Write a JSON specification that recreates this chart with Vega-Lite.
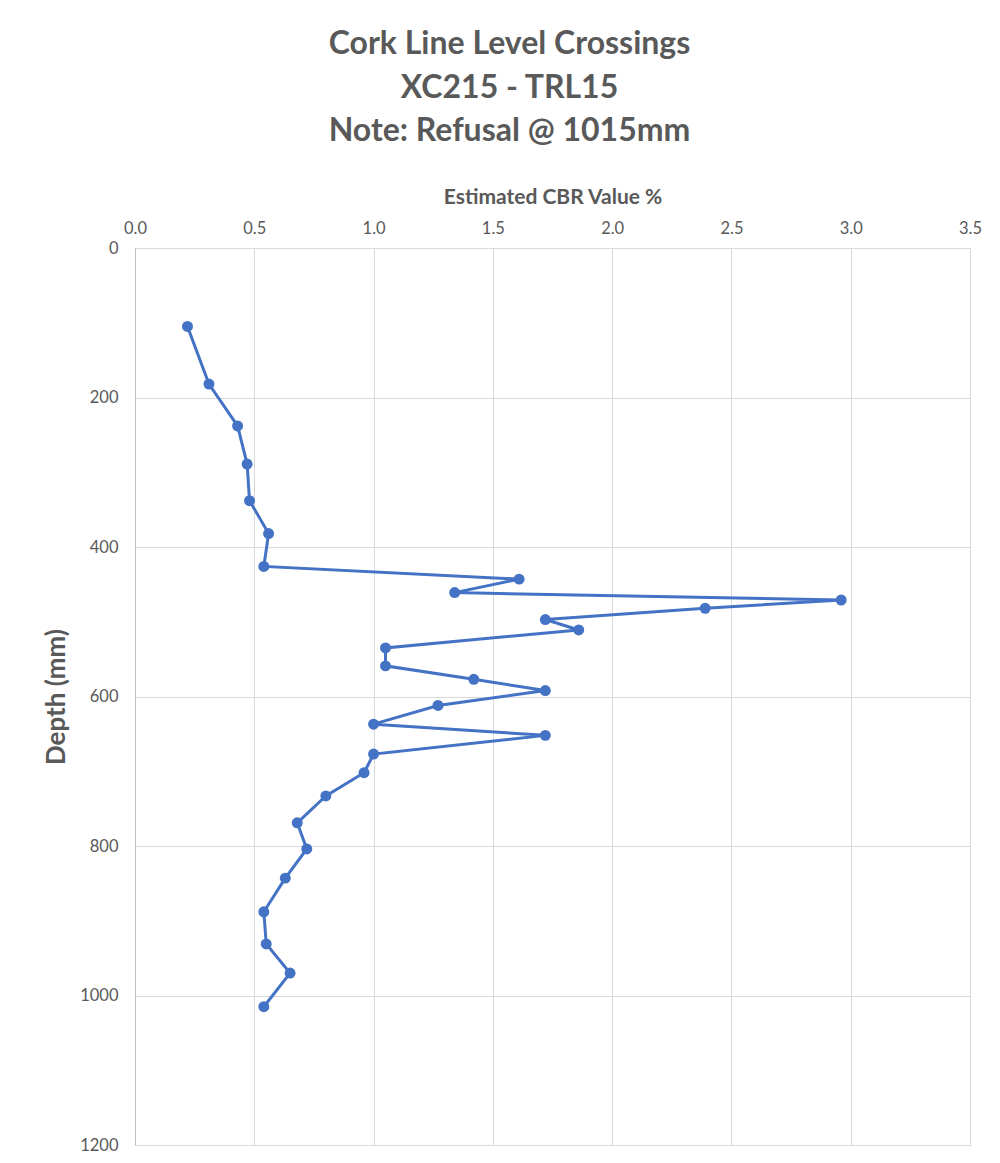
{
  "$schema": "https://vega.github.io/schema/vega-lite/v6.json",
  "width": 835,
  "height": 897,
  "autosize": {"type": "none"},
  "padding": {"left": 135, "top": 248, "right": 30, "bottom": 18},
  "background": "white",
  "config": {
    "view": {"stroke": null},
    "font": "Lato"
  },
  "title": {
    "text": ["Cork Line Level Crossings", "XC215 - TRL15", "Note: Refusal @ 1015mm"],
    "font": "Lato",
    "fontSize": 32,
    "fontWeight": "bold",
    "color": "#595959",
    "lineHeight": 43.5,
    "anchor": "middle",
    "frame": "group",
    "dx": -43,
    "offset": 38
  },
  "data": {
    "values": [
      {"cbr": 0.22, "depth": 105},
      {"cbr": 0.31, "depth": 182},
      {"cbr": 0.43, "depth": 238},
      {"cbr": 0.47, "depth": 289},
      {"cbr": 0.48, "depth": 338},
      {"cbr": 0.56, "depth": 382},
      {"cbr": 0.54, "depth": 426},
      {"cbr": 1.61, "depth": 443},
      {"cbr": 1.34, "depth": 461},
      {"cbr": 2.96, "depth": 471},
      {"cbr": 2.39, "depth": 482},
      {"cbr": 1.72, "depth": 497},
      {"cbr": 1.86, "depth": 511},
      {"cbr": 1.05, "depth": 535},
      {"cbr": 1.05, "depth": 559},
      {"cbr": 1.42, "depth": 577},
      {"cbr": 1.72, "depth": 592},
      {"cbr": 1.27, "depth": 612},
      {"cbr": 1.0, "depth": 637},
      {"cbr": 1.72, "depth": 652},
      {"cbr": 1.0, "depth": 677},
      {"cbr": 0.96, "depth": 702},
      {"cbr": 0.8, "depth": 733},
      {"cbr": 0.68, "depth": 769},
      {"cbr": 0.72, "depth": 804},
      {"cbr": 0.63, "depth": 843},
      {"cbr": 0.54, "depth": 888},
      {"cbr": 0.55, "depth": 931},
      {"cbr": 0.65, "depth": 970},
      {"cbr": 0.54, "depth": 1015}
    ]
  },
  "encoding": {
    "x": {
      "field": "cbr",
      "type": "quantitative",
      "scale": {"domain": [0, 3.5], "nice": false, "zero": true},
      "axis": {
        "orient": "top",
        "title": "Estimated CBR Value %",
        "values": [0, 0.5, 1, 1.5, 2, 2.5, 3, 3.5],
        "format": ".1f",
        "ticks": false,
        "grid": true,
        "gridColor": "#d9d9d9",
        "gridWidth": 1,
        "domain": false,
        "labelFlush": false,
        "labelOverlap": false,
        "labelFont": "Lato",
        "labelFontSize": 16.5,
        "labelColor": "#595959",
        "labelPadding": 12,
        "titleFont": "Lato",
        "titleFontSize": 21,
        "titleFontWeight": "bold",
        "titleColor": "#595959",
        "titlePadding": 13
      }
    },
    "y": {
      "field": "depth",
      "type": "quantitative",
      "scale": {"domain": [0, 1200], "nice": false, "reverse": true},
      "axis": {
        "title": "Depth (mm)",
        "values": [0, 200, 400, 600, 800, 1000, 1200],
        "format": "d",
        "ticks": false,
        "grid": true,
        "gridColor": "#d9d9d9",
        "gridWidth": 1,
        "domain": true,
        "domainColor": "#bfbfbf",
        "domainWidth": 1,
        "labelFlush": false,
        "labelOverlap": false,
        "labelFont": "Lato",
        "labelFontSize": 16.5,
        "labelColor": "#595959",
        "labelPadding": 17,
        "titleFont": "Lato",
        "titleFontSize": 26,
        "titleFontWeight": "bold",
        "titleColor": "#595959",
        "titlePadding": 10
      }
    },
    "order": {"field": "depth", "type": "quantitative"}
  },
  "layer": [
    {
      "mark": {"type": "line", "color": "#4472C4", "strokeWidth": 3, "clip": false}
    },
    {
      "mark": {"type": "point", "filled": true, "color": "#4472C4", "size": 120, "opacity": 1, "shape": "circle"}
    }
  ]
}
